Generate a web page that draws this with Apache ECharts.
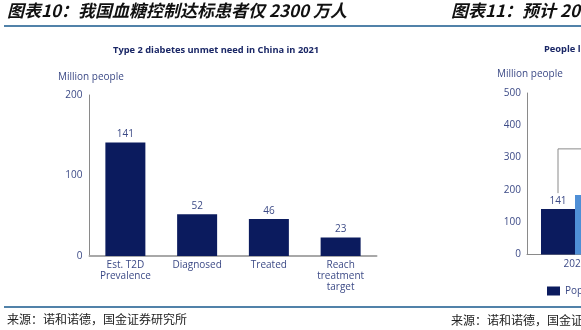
<!DOCTYPE html>
<html>
<head>
<meta charset="utf-8">
<script src="https://cdn.jsdelivr.net/npm/echarts@6/dist/echarts.min.js"></script>
<style>
html,body{margin:0;padding:0;background:#fff;}
#c{width:581px;height:330px;}
</style>
</head>
<body>
<div id="c"></div>
<script>
// Left chart data
var categories = ['Est. T2D\nPrevalence', 'Diagnosed', 'Treated', 'Reach\ntreatment\ntarget'];
var unmetValues = [141, 52, 46, 23];
var leftTicks = [0, 100, 200];
// Right (partially visible) chart data
var rightCategories = ['2021', '2030', '2045'];
var rightPopValues = [141];
var rightBlueValues = [184];
var rightTicks = [0, 100, 200, 300, 400, 500];
var bracketRange = [[0, 190, 327]];

var navy = '#0b1b5e';
var txt = '#3c4a86';
var axisGray = '#8a8a8a';
var FONT = '"Open Sans", "Noto Sans", sans-serif';
var CJK = '"Noto Sans CJK SC", sans-serif';

function t(text, left, top, style) {
  return {text: text, left: left, top: top, padding: 0, textStyle: style};
}

var chart = echarts.init(document.getElementById('c'), null, {renderer: 'canvas'});
var headStyle = {fontFamily: CJK, fontSize: 17, fontStyle: 'italic', fontWeight: 'bold', color: '#111'};
var chartTitleStyle = {fontFamily: FONT, fontSize: 9.3, fontWeight: 'bold', color: '#1a2766'};
var unitStyle = {fontFamily: FONT, fontSize: 10, fontWeight: 'normal', color: txt};
var srcStyle = {fontFamily: CJK, fontSize: 12, fontWeight: 'normal', color: '#222'};
var option = {
  animation: false,
  backgroundColor: '#fff',
  textStyle: {fontFamily: FONT},
  title: [
    t('图表10：我国血糖控制达标患者仅 2300 万人', 7, 2, headStyle),
    t('图表11：预计 2045 年中国糖尿病患者人数', 451, 2, headStyle),
    t('Type 2 diabetes unmet need in China in 2021', 113, 46, chartTitleStyle),
    t('People living with diabetes in China', 544, 45, chartTitleStyle),
    t('Million people', 58, 72, unitStyle),
    t('Million people', 497, 69, unitStyle),
    t('来源：诺和诺德，国金证券研究所', 7, 313, srcStyle),
    t('来源：诺和诺德，国金证券研究所', 451, 314, srcStyle)
  ],
  graphic: [
    {type: 'line', shape: {x1: 4, y1: 26, x2: 581, y2: 26}, style: {stroke: '#17598c', lineWidth: 1.5}},
    {type: 'line', shape: {x1: 4, y1: 307, x2: 581, y2: 307}, style: {stroke: '#17598c', lineWidth: 1.5}}
  ],
  legend: {
    left: 547, top: 286, itemWidth: 13, itemHeight: 9, padding: 0,
    data: ['Population with diabetes'],
    textStyle: {fontFamily: FONT, fontSize: 10, color: txt},
    icon: 'rect'
  },
  grid: [
    {left: 89.5, top: 95, width: 287, height: 161, outerBoundsMode: 'none', containLabel: false},
    {left: 527, top: 93, width: 288, height: 161.5, outerBoundsMode: 'none', containLabel: false}
  ],
  xAxis: [
    {type: 'category', gridIndex: 0, data: categories,
     axisLine: {lineStyle: {color: '#a8a8a8', width: 2}}, axisTick: {show: false},
     axisLabel: {color: txt, fontSize: 10, fontFamily: FONT, lineHeight: 11, margin: 4, interval: 0}},
    {type: 'category', gridIndex: 1, data: rightCategories,
     axisLine: {lineStyle: {color: axisGray, width: 1}}, axisTick: {show: false},
     axisLabel: {color: txt, fontSize: 10, fontFamily: FONT, margin: 5, interval: 0}}
  ],
  yAxis: [
    {type: 'value', gridIndex: 0, min: leftTicks[0], max: leftTicks[leftTicks.length - 1], interval: 100,
     axisLine: {show: true, lineStyle: {color: axisGray, width: 1}}, axisTick: {show: false},
     splitLine: {show: false},
     axisLabel: {color: txt, fontSize: 10, fontFamily: FONT, margin: 7}},
    {type: 'value', gridIndex: 1, min: rightTicks[0], max: rightTicks[rightTicks.length - 1], interval: 100,
     axisLine: {show: true, lineStyle: {color: axisGray, width: 1}}, axisTick: {show: false},
     splitLine: {show: false},
     axisLabel: {color: txt, fontSize: 10, fontFamily: FONT, margin: 6}}
  ],
  series: [
    {type: 'bar', name: 'Unmet need', xAxisIndex: 0, yAxisIndex: 0, data: unmetValues,
     barWidth: 40, itemStyle: {color: navy},
     label: {show: true, position: 'top', color: txt, fontSize: 10, fontFamily: FONT, distance: 3}},
    {type: 'bar', name: 'Population with diabetes', xAxisIndex: 1, yAxisIndex: 1, data: rightPopValues,
     barWidth: 34, barGap: '0%', itemStyle: {color: navy},
     label: {show: true, position: 'top', color: txt, fontSize: 10, fontFamily: FONT, distance: 3}},
    {type: 'bar', name: 'Projected', xAxisIndex: 1, yAxisIndex: 1, data: rightBlueValues,
     barWidth: 34, barGap: '0%', itemStyle: {color: '#4f8fd6'}},
    {type: 'custom', name: 'bracket', xAxisIndex: 1, yAxisIndex: 1, data: bracketRange,
     renderItem: function (params, api) {
       var p0 = api.coord([api.value(0), api.value(1)]);
       var p1 = api.coord([api.value(0), api.value(2)]);
       var x = p0[0] - 17;
       return {type: 'polyline', shape: {points: [[x, p0[1]], [x, p1[1]], [x + 200, p1[1]]]},
               style: {stroke: axisGray, lineWidth: 1, fill: null}};
     }}
  ]
};
chart.setOption(option);
</script>
</body>
</html>
